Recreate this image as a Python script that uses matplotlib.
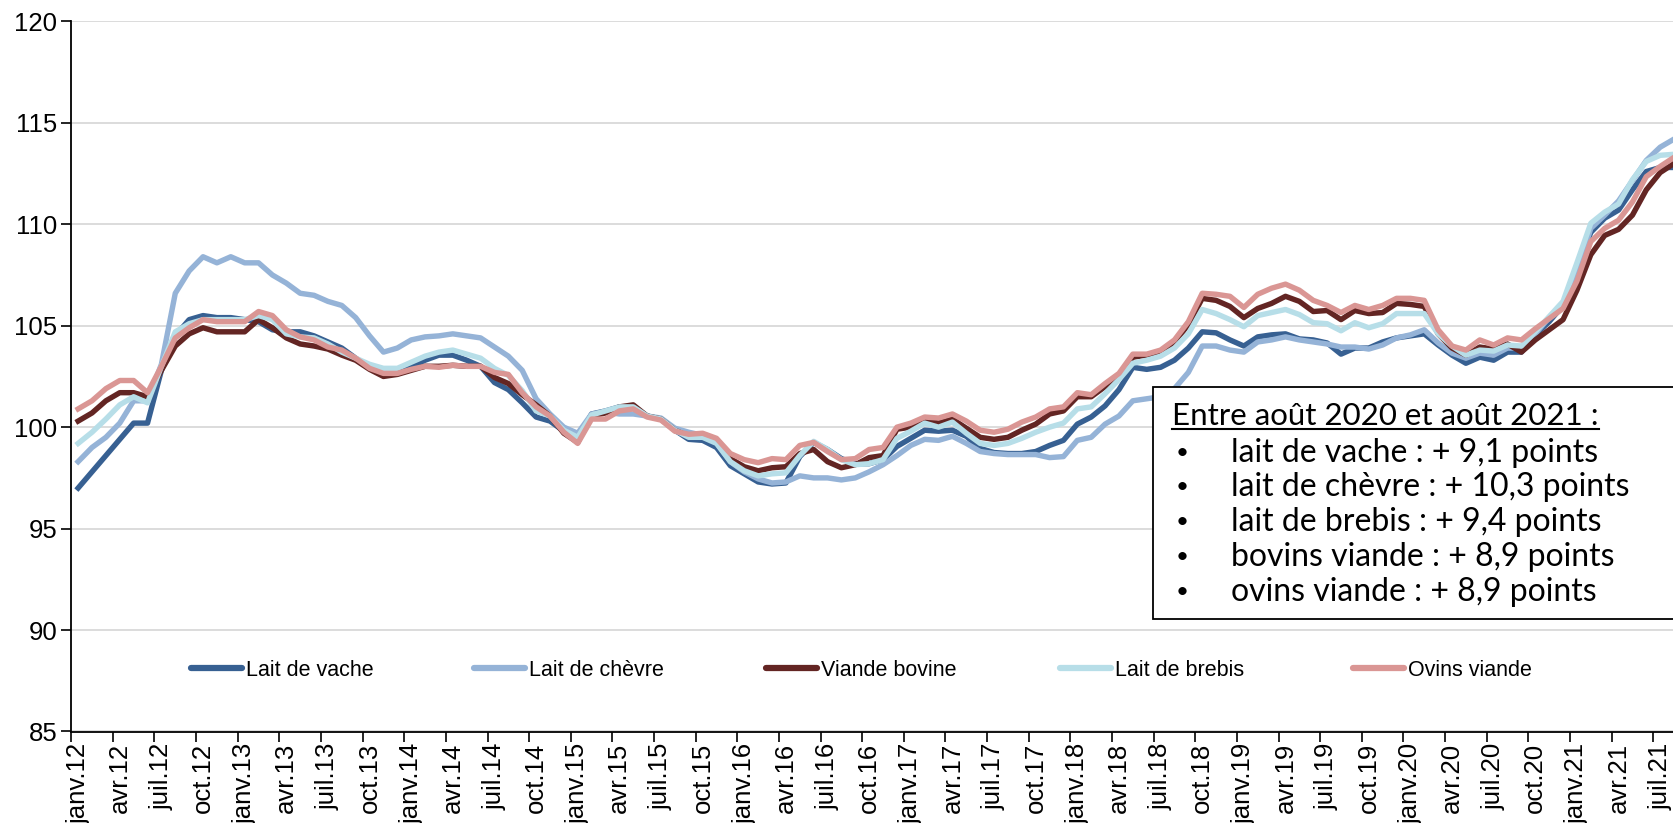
import numpy as np
import matplotlib
matplotlib.use("Agg")
import matplotlib.pyplot as plt
from matplotlib.lines import Line2D
from matplotlib.legend import Legend
from matplotlib.patches import Rectangle

# monthly index, janv.12 -> août.21
lait_vache = [97.0, 97.8, 98.6, 99.4, 100.2, 100.2, 102.8, 104.5, 105.3, 105.5, 105.4, 105.4,
              105.3, 105.2, 104.8, 104.7, 104.7, 104.5, 104.2, 103.9, 103.4, 102.9, 102.6, 102.7,
              103.0, 103.3, 103.55, 103.55, 103.3, 103.0, 102.2, 101.85, 101.2, 100.5, 100.3, 99.8,
              99.4, 100.65, 100.8, 101.0, 101.0, 100.55, 100.4, 99.85, 99.4, 99.35, 99.0, 98.1,
              97.7, 97.3, 97.2, 97.25, 98.55, 99.25, 98.9, 98.45, 98.2, 98.2, 98.4, 99.05,
              99.45, 99.85, 99.8, 99.85, 99.55, 98.95, 98.75, 98.7, 98.7, 98.8, 99.1, 99.35,
              100.15, 100.5, 101.05, 101.85, 102.95, 102.85, 102.95, 103.3, 103.9, 104.7, 104.65, 104.3,
              104.0, 104.45, 104.55, 104.6, 104.35, 104.3, 104.15, 103.6, 103.9, 103.9, 104.2, 104.4,
              104.5, 104.6, 104.05, 103.55, 103.15, 103.45, 103.3, 103.7, 103.7, 104.55, 105.2, 106.0,
              107.75, 109.6, 110.3, 110.7, 111.7, 112.6, 112.8, 112.8]
lait_chevre = [98.3, 99.0, 99.5, 100.2, 101.3, 101.3, 103.1, 106.6, 107.7, 108.4, 108.1, 108.4,
               108.1, 108.1, 107.5, 107.1, 106.6, 106.5, 106.2, 106.0, 105.4, 104.5, 103.7, 103.9,
               104.3, 104.45, 104.5, 104.6, 104.5, 104.4, 103.95, 103.5, 102.8, 101.4, 100.65, 100.0,
               99.7, 100.65, 100.75, 100.65, 100.65, 100.55, 100.45, 99.95, 99.75, 99.6, 99.25, 98.3,
               97.8, 97.45, 97.25, 97.3, 97.6, 97.5, 97.5, 97.4, 97.5, 97.8, 98.15, 98.6,
               99.1, 99.4, 99.35, 99.55, 99.2, 98.8, 98.7, 98.65, 98.65, 98.65, 98.5, 98.55,
               99.35, 99.5, 100.15, 100.55, 101.3, 101.4, 101.5, 101.9, 102.7, 104.0, 104.0, 103.8,
               103.7, 104.2, 104.3, 104.45, 104.3, 104.2, 104.1, 103.95, 103.95, 103.85, 104.05, 104.4,
               104.55, 104.8, 104.15, 103.65, 103.4, 103.65, 103.55, 103.9, 103.9, 104.6, 105.4, 106.0,
               107.6, 109.8, 110.45, 111.15, 112.15, 113.15, 113.8, 114.2]
viande_bovine = [100.3, 100.7, 101.3, 101.7, 101.7, 101.5, 102.8, 104.0, 104.6, 104.9, 104.7, 104.7,
                 104.7, 105.3, 104.9, 104.4, 104.1, 104.0, 103.85, 103.55, 103.3, 102.85, 102.5, 102.6,
                 102.8, 103.0, 103.0, 103.05, 103.0, 103.0, 102.45, 102.15, 101.6, 101.1, 100.55, 99.7,
                 99.25, 100.55, 100.7, 101.0, 101.1, 100.55, 100.4, 99.85, 99.55, 99.55, 99.25, 98.45,
                 98.05, 97.85, 98.0, 98.05, 98.7, 98.9, 98.3, 98.0, 98.15, 98.5, 98.6, 99.9,
                 100.0, 100.35, 100.2, 100.4, 99.95, 99.5, 99.4, 99.5, 99.85, 100.15, 100.65, 100.8,
                 101.5, 101.5, 102.0, 102.5, 103.45, 103.55, 103.7, 104.2, 105.05, 106.35, 106.25, 105.95,
                 105.4, 105.85, 106.1, 106.45, 106.2, 105.7, 105.75, 105.3, 105.75, 105.6, 105.65, 106.1,
                 106.05, 105.95, 104.6, 103.9, 103.55, 103.95, 103.85, 104.1, 103.7, 104.3, 104.8, 105.3,
                 106.75, 108.5, 109.45, 109.75, 110.45, 111.7, 112.55, 113.0]
lait_brebis = [99.2, 99.75, 100.4, 101.1, 101.5, 101.2, 103.0, 104.7, 105.1, 105.3, 105.3, 105.3,
               105.3, 105.5, 105.3, 104.6, 104.45, 104.4, 104.1, 103.7, 103.4, 103.1, 102.9, 102.9,
               103.2, 103.5, 103.7, 103.8, 103.6, 103.4, 102.9, 102.55, 101.8, 100.8, 100.55, 99.85,
               99.5, 100.6, 100.8, 101.0, 101.0, 100.55, 100.4, 99.85, 99.5, 99.5, 99.2, 98.3,
               97.85, 97.6, 97.7, 97.75, 98.6, 99.3, 98.9, 98.4, 98.15, 98.2, 98.4, 99.45,
               99.8, 100.2, 100.0, 100.25, 99.7, 99.2, 99.1, 99.2, 99.45, 99.75, 100.0, 100.2,
               100.9, 101.0, 101.65, 102.35, 103.15, 103.3, 103.5, 103.9, 104.6, 105.8, 105.6, 105.3,
               104.95, 105.5, 105.65, 105.8, 105.55, 105.15, 105.1, 104.75, 105.15, 104.9, 105.1, 105.6,
               105.6, 105.6, 104.6, 104.0, 103.55, 103.8, 103.75, 104.05, 104.0, 104.7, 105.45, 106.2,
               108.1, 110.05, 110.6, 111.0, 112.2, 113.1, 113.4, 113.45]
ovins_viande = [100.9, 101.3, 101.9, 102.3, 102.3, 101.7, 103.0, 104.4, 104.9, 105.3, 105.2, 105.2,
                105.2, 105.7, 105.5, 104.8, 104.45, 104.3, 103.95, 103.8, 103.4, 102.9, 102.65, 102.65,
                102.85, 103.0, 102.95, 103.05, 103.0, 103.0, 102.7, 102.6, 101.7, 101.0, 100.55, 99.75,
                99.2, 100.4, 100.4, 100.8, 100.9, 100.5, 100.35, 99.8, 99.65, 99.7, 99.45, 98.7,
                98.4, 98.25, 98.45, 98.4, 99.1, 99.25, 98.8, 98.4, 98.45, 98.9, 99.0, 100.0,
                100.2, 100.5, 100.45, 100.65, 100.3, 99.85, 99.75, 99.9, 100.25, 100.5, 100.9, 101.0,
                101.7, 101.6, 102.15, 102.65, 103.6, 103.6, 103.8, 104.3, 105.2, 106.6, 106.55, 106.45,
                105.9, 106.55, 106.85, 107.05, 106.75, 106.25, 106.0, 105.65, 106.0, 105.8, 106.0, 106.35,
                106.35, 106.25, 104.8, 104.0, 103.8, 104.3, 104.05, 104.4, 104.3, 104.85, 105.35, 105.85,
                107.2, 109.15, 109.8, 110.2, 111.1, 112.35, 112.85, 113.3]

series_names = ["Lait de vache", "Lait de chèvre", "Viande bovine", "Lait de brebis", "Ovins viande"]
series_colors = ["#376092", "#95B3D7", "#632523", "#B7DEE8", "#DA9694"]

month_abbr = ["janv.", "avr.", "juil.", "oct."]
years = ["12", "13", "14", "15", "16", "17", "18", "19", "20", "21"]
tick_labels = [m + y for y in years for m in month_abbr][:39]

note_title = "Entre août 2020 et août 2021 :"
note_lines = ["lait de vache : + 9,1 points",
              "lait de chèvre : + 10,3 points",
              "lait de brebis : + 9,4 points",
              "bovins viande : + 8,9 points",
              "ovins viande : + 8,9 points"]

plt.rcParams['font.family'] = ['Liberation Sans', 'DejaVu Sans']

W, H = 1674, 823
fig = plt.figure(figsize=(W / 100, H / 100), dpi=100)
ax = fig.add_axes([71.2 / W, (H - 731.5) / H, (1681 - 71.2) / W, (731.5 - 21.4) / H])

data = [lait_vache, lait_chevre, viande_bovine, lait_brebis, ovins_viande]
x = np.arange(len(lait_vache))
for vals, name, col in zip(data, series_names, series_colors):
    ax.plot(x, vals, color=col, lw=3.9, label=name, solid_joinstyle='round', zorder=3)

ax.set_xlim(-0.5, len(x) - 0.5)
ax.set_ylim(85, 120)
ax.set_yticks(np.arange(85, 121, 5))
ax.yaxis.grid(True, color='#D9D9D9', lw=1.3, zorder=0)
ax.set_axisbelow(True)

ax.set_xticks(np.arange(-0.5, len(x), 3))
ax.set_xticklabels([])
ax.set_xticks(np.arange(0, len(x), 3)[:len(tick_labels)], minor=True)
ax.set_xticklabels(tick_labels, minor=True, rotation=90, fontsize=18.5)
ax.tick_params(axis='x', which='major', direction='out', length=7, width=1.2, color='black')
ax.tick_params(axis='x', which='minor', length=0, pad=8)
ax.tick_params(axis='y', direction='out', length=7, width=1.2, labelsize=18.5, pad=3)

for s in ['top', 'right']:
    ax.spines[s].set_visible(False)
for s in ['left', 'bottom']:
    ax.spines[s].set_linewidth(1.3)
    ax.spines[s].set_color('black')

# legend, one entry per slot
legend_x = [190, 473, 765, 1059, 1352]
for k, (name, col) in enumerate(zip(series_names, series_colors)):
    h = Line2D([0], [0], color=col, lw=4.5, solid_capstyle='round')
    lg = Legend(ax, [h], [name], loc='center left', frameon=False, fontsize=15.5,
                bbox_to_anchor=((legend_x[k] - 71.2 - 8) / (1681 - 71.2), 0.086),
                handlelength=2.4, handletextpad=0.15, borderaxespad=0)
    ax.add_artist(lg)

# annotation box
box_x, box_top, box_bot = 1153, 387.5, 619
fig.patches.append(Rectangle((box_x / W, 1 - box_bot / H), 0.5, (box_bot - box_top) / H,
                             transform=fig.transFigure, facecolor='white', edgecolor='black',
                             lw=1.3, zorder=5))
nfont = ['Lato', 'DejaVu Sans']
t = fig.text(1172 / W, 1 - 416 / H, note_title, fontsize=22.5, family=nfont,
             va='center', ha='left', zorder=6)
line_y = [452.7, 487.5, 522, 556.5, 592]
for yy, txt in zip(line_y, note_lines):
    fig.text(1176 / W, 1 - yy / H, "•", fontsize=16, family=nfont, va='center', ha='left', zorder=6)
    fig.text(1231 / W, 1 - yy / H, txt, fontsize=23, family=nfont, va='center', ha='left', zorder=6)

fig.canvas.draw()
bb = t.get_window_extent()
fig.lines.append(Line2D([bb.x0 / W, bb.x1 / W], [(bb.y0 + 1) / H, (bb.y0 + 1) / H],
                        transform=fig.transFigure, color='black', lw=1.5, zorder=6))

fig.savefig("out.png", dpi=100)
